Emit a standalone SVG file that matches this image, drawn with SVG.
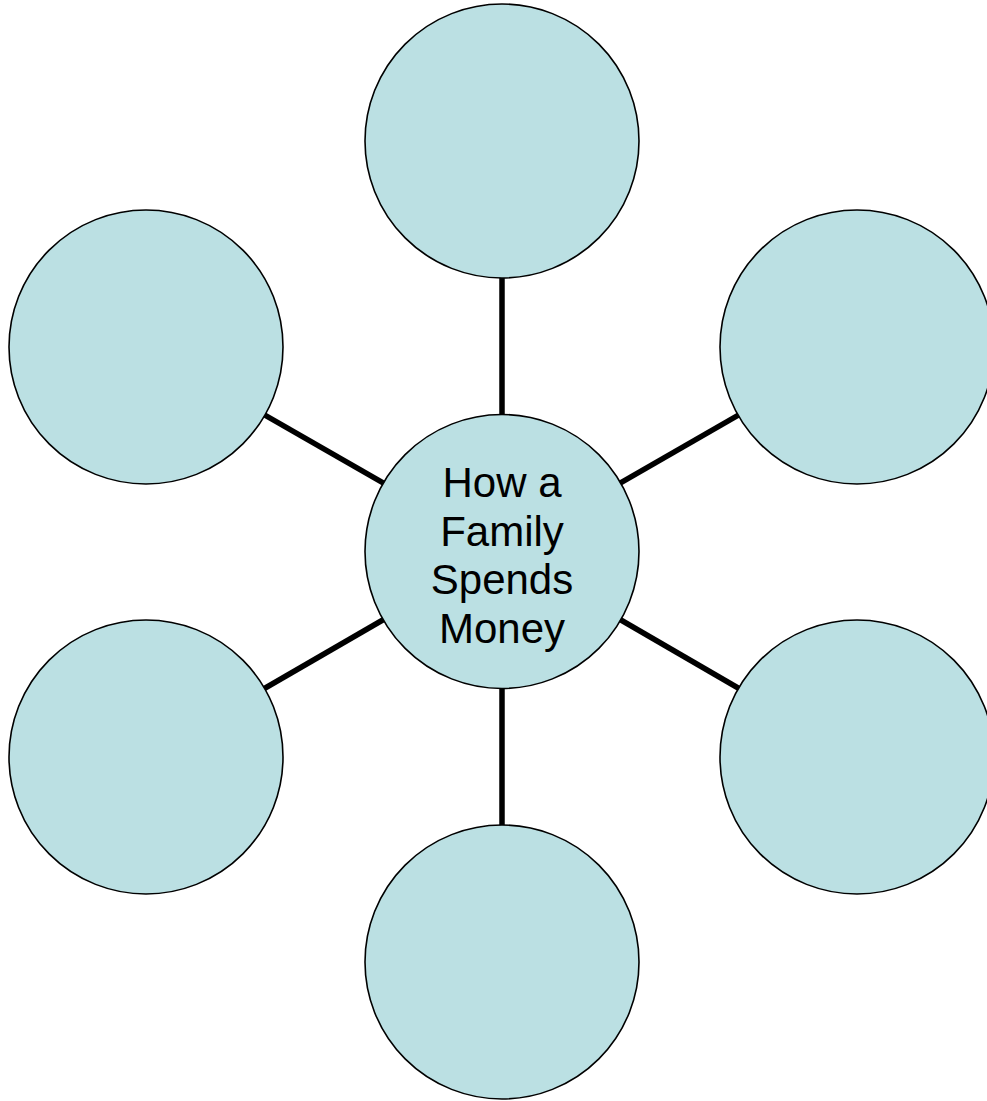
<svg xmlns="http://www.w3.org/2000/svg" width="987" height="1101" viewBox="0 0 987 1101">
<style>
.node{fill:#BBE0E3;stroke:#000;stroke-width:1.6}
.conn{stroke:#000;stroke-width:5.5;fill:none}
.lbl{font-family:"Liberation Sans",Arial,sans-serif;font-size:42px;fill:#000;text-anchor:middle}
</style>
<rect width="987" height="1101" fill="#fff"/>
<g id="connectors">
<line class="conn" x1="502" y1="551" x2="502" y2="141"/>
<line class="conn" x1="502" y1="551" x2="146" y2="347"/>
<line class="conn" x1="502" y1="551" x2="857" y2="347"/>
<line class="conn" x1="502" y1="551" x2="146" y2="757"/>
<line class="conn" x1="502" y1="551" x2="857" y2="757"/>
<line class="conn" x1="502" y1="551" x2="502" y2="962"/>
</g>
<g id="node-top"><circle class="node" cx="502" cy="141" r="137"/></g>
<g id="node-upper-left"><circle class="node" cx="146" cy="347" r="137"/></g>
<g id="node-upper-right"><circle class="node" cx="857" cy="347" r="137"/></g>
<g id="node-lower-left"><circle class="node" cx="146" cy="757" r="137"/></g>
<g id="node-lower-right"><circle class="node" cx="857" cy="757" r="137"/></g>
<g id="node-bottom"><circle class="node" cx="502" cy="962" r="137"/></g>
<g id="node-center">
<circle class="node" cx="502" cy="551.5" r="137"/>
<text class="lbl"><tspan x="502" y="497">How a</tspan><tspan x="502" y="545.5">Family</tspan><tspan x="502" y="594">Spends</tspan><tspan x="502" y="642.5">Money</tspan></text>
</g>
</svg>
